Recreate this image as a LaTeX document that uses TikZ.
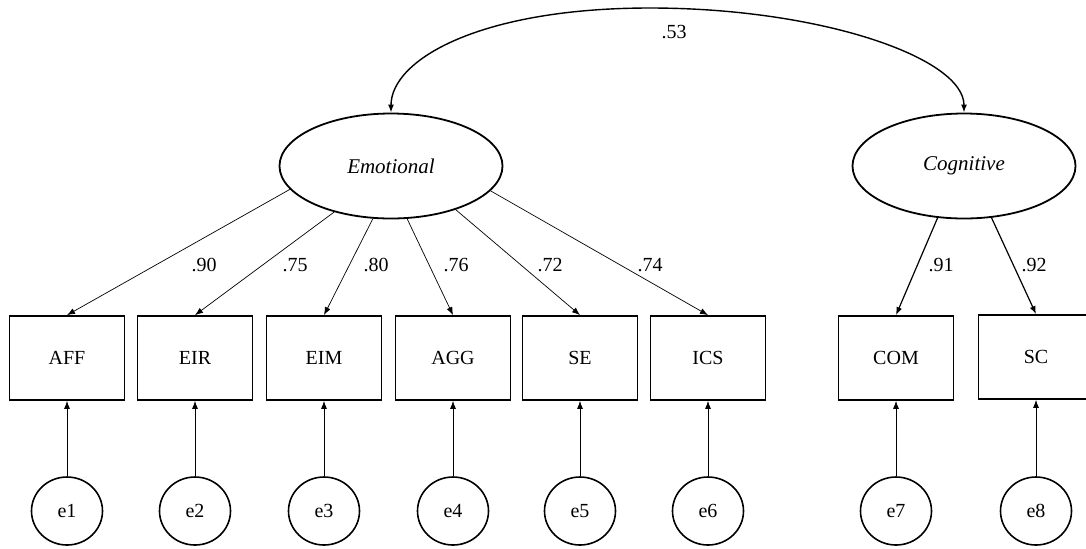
\documentclass[tikz,border=0pt]{standalone}
\usepackage{fontspec}
\setmainfont{Liberation Serif}
\usetikzlibrary{arrows.meta,shapes.geometric}
\begin{document}
\begin{tikzpicture}[x=0.5pt,y=-0.5pt,
  obs/.style={draw,line width=0.9pt,minimum width=57.5pt,minimum height=42pt,inner sep=0pt,font=\fontsize{10}{12}\selectfont},
  lat/.style={draw,ellipse,line width=0.9pt,minimum width=111.5pt,minimum height=52.5pt,inner sep=0pt,font=\fontsize{10.5}{12}\selectfont\itshape},
  err/.style={draw,ellipse,line width=0.8pt,minimum width=35.5pt,minimum height=34pt,inner sep=0pt,font=\fontsize{10}{12}\selectfont},
  lbl/.style={inner sep=0pt,font=\fontsize{10}{12}\selectfont},
  tip/.style={-{Latex[length=4pt,width=3pt]}},
  load/.style={tip,line width=0.35pt},
  cload/.style={tip,line width=0.6pt},
  eload/.style={tip,line width=0.35pt},
  cov/.style={{Latex[length=4pt,width=3pt]}-{Latex[length=4pt,width=3pt]},line width=0.7pt}
]
\clip (0,0) rectangle (1086,548);
% latent variables
\node[lat] (emo) at (391,166) {Emotional};
\node[lat] (cog) at (964,166) {Cognitive};
% observed
\node[obs] (aff) at (67,358) {AFF};
\node[obs] (eir) at (195,358) {EIR};
\node[obs] (eim) at (324,358) {EIM};
\node[obs] (agg) at (453,358) {AGG};
\node[obs] (se)  at (580,358) {SE};
\node[obs] (ics) at (708,358) {ICS};
\node[obs] (com) at (896,358) {COM};
\node[obs] (sc)  at (1036,357) {SC};
% errors
\node[err] (e1) at (67,511) {e1};
\node[err] (e2) at (195,511) {e2};
\node[err] (e3) at (324,511) {e3};
\node[err] (e4) at (453,511) {e4};
\node[err] (e5) at (580,511) {e5};
\node[err] (e6) at (708,511) {e6};
\node[err] (e7) at (896,511) {e7};
\node[err] (e8) at (1036,511) {e8};
% covariance
\coordinate (top) at (650,8);
\draw[cov] (emo.north) .. controls +(0,-53) and +(-170,0) .. (top)
  .. controls +(170,0) and +(0,-55) .. (cog.north);
\node[lbl] (r) at (674,32) {.53};
% loadings
\draw[load] (emo.-167.5) -- (aff.north);
\draw[load] (emo.-141.6) -- (eir.north);
\draw[load] (emo.-109) -- (eim.north);
\draw[load] (emo.-73) -- (agg.north);
\draw[load] (emo.-34.3) -- (se.north);
\draw[load] (emo.-14.6) -- (ics.north);
\draw[cload] (cog.-117.4) -- (com.north);
\draw[cload] (cog.-62) -- (sc.north);
\node[lbl] (l1) at (204,265) {.90};
\node[lbl] (l2) at (295,265) {.75};
\node[lbl] (l3) at (376,265) {.80};
\node[lbl] (l4) at (456,265) {.76};
\node[lbl] (l5) at (550,265) {.72};
\node[lbl] (l6) at (650,265) {.74};
\node[lbl] (l7) at (941,265) {.91};
\node[lbl] (l8) at (1034,265) {.92};
% error arrows
\foreach \e/\o in {e1/aff,e2/eir,e3/eim,e4/agg,e5/se,e6/ics,e7/com,e8/sc}
  \draw[eload] (\e.north) -- (\o.south);
\end{tikzpicture}
\end{document}
